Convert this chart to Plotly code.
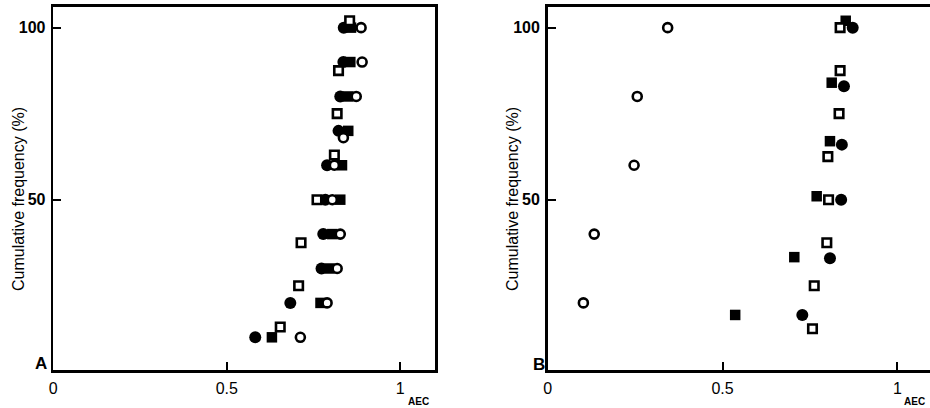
import plotly.graph_objects as go

# ---- Panel A data (AEC, cumulative frequency %) ----
a_fc_x = [0.582, 0.683, 0.773, 0.778, 0.784, 0.789, 0.822, 0.827, 0.836, 0.837]
a_fc_y = [10, 20, 30, 40, 50, 60, 70, 80, 90, 100]
a_fs_x = [0.630, 0.770, 0.796, 0.804, 0.827, 0.832, 0.850, 0.850, 0.856, 0.858]
a_fs_y = [10, 20, 30, 40, 50, 60, 70, 80, 90, 100]
a_oc_x = [0.712, 0.789, 0.818, 0.827, 0.804, 0.810, 0.836, 0.873, 0.890, 0.887]
a_oc_y = [10, 20, 30, 40, 50, 60, 68, 80, 90, 100]
a_os_x = [0.654, 0.707, 0.714, 0.760, 0.810, 0.818, 0.822, 0.854]
a_os_y = [13, 25, 37.5, 50, 63, 75, 87.5, 102]

# ---- Panel B data ----
b_oc_x = [0.102, 0.133, 0.247, 0.256, 0.343]
b_oc_y = [20, 40, 60, 80, 100]
b_fs_x = [0.536, 0.705, 0.769, 0.807, 0.812, 0.852]
b_fs_y = [16.5, 33.3, 51, 67, 84, 102]
b_fc_x = [0.728, 0.807, 0.839, 0.841, 0.847, 0.872]
b_fc_y = [16.5, 33, 50, 66, 83, 100]
b_os_x = [0.757, 0.762, 0.798, 0.803, 0.801, 0.833, 0.836, 0.836]
b_os_y = [12.5, 25, 37.5, 50, 62.5, 75, 87.5, 100]

x_ticks = [0, 0.5, 1]
x_ticktext = ["0", "0.5", "1"]
y_ticks = [50, 100]
y_ticktext = ["50", "100"]

FONT = "Liberation Sans"
W, H = 930, 408

fig = go.Figure()


def add_series(x, y, symbol, filled, xa, ya, size):
    fig.add_trace(go.Scatter(
        x=x, y=y, mode="markers", xaxis=xa, yaxis=ya, showlegend=False,
        hoverinfo="skip", cliponaxis=False,
        marker=dict(
            symbol=symbol, size=size,
            color="black" if filled else "white",
            line=dict(color="black", width=0 if filled else 2.6),
        ),
    ))


# order: filled squares, filled circles, open squares, open circles (open on top)
add_series(a_fs_x, a_fs_y, "square", True, "x", "y", 10.5)
add_series(a_fc_x, a_fc_y, "circle", True, "x", "y", 12)
add_series(a_os_x, a_os_y, "square", False, "x", "y", 8.5)
add_series(a_oc_x, a_oc_y, "circle", False, "x", "y", 9)

add_series(b_fs_x, b_fs_y, "square", True, "x2", "y2", 10.5)
add_series(b_fc_x, b_fc_y, "circle", True, "x2", "y2", 12)
add_series(b_os_x, b_os_y, "square", False, "x2", "y2", 8.5)
add_series(b_oc_x, b_oc_y, "circle", False, "x2", "y2", 9)

ydom = [1 - 370 / H, 1 - 7 / H]

xaxis_common = dict(
    range=[0, 1.1], tickvals=x_ticks, ticktext=x_ticktext,
    ticks="inside", ticklen=8, tickwidth=2, tickcolor="black",
    showline=True, linewidth=2.6, linecolor="black", mirror=True,
    showgrid=False, zeroline=False, automargin=False,
    tickfont=dict(family=FONT, size=16, color="black"),
    ticklabelstandoff=2,
)
yaxis_common = dict(
    range=[0.5, 106], tickvals=y_ticks, ticktext=y_ticktext,
    ticks="inside", ticklen=8, tickwidth=2, tickcolor="black",
    showline=True, linewidth=2.6, linecolor="black", mirror=True,
    showgrid=False, zeroline=False, automargin=False,
    tickfont=dict(family=FONT, size=16, color="black", weight="bold"),
    ticklabelstandoff=2,
)

fig.update_layout(
    width=W, height=H,
    margin=dict(l=0, r=0, t=0, b=0, autoexpand=False),
    paper_bgcolor="white", plot_bgcolor="white",
    xaxis=dict(domain=[53.3 / W, 435 / W], anchor="y", **xaxis_common),
    yaxis=dict(domain=ydom, anchor="x", **yaxis_common),
    xaxis2=dict(domain=[547.7 / W, 1.0], anchor="y2",
                **{**xaxis_common, "range": [0, 1.093]}),
    yaxis2=dict(domain=ydom, anchor="x2", **yaxis_common),
)

annots = [
    dict(x=18 / W, y=1 - 199 / H, text="Cumulative frequency (%)", textangle=-90,
         font=dict(family=FONT, size=16, color="black")),
    dict(x=512 / W, y=1 - 199 / H, text="Cumulative frequency (%)", textangle=-90,
         font=dict(family=FONT, size=16, color="black")),
    dict(x=41 / W, y=1 - 363 / H, text="<b>A</b>",
         font=dict(family=FONT, size=17, color="black")),
    dict(x=539 / W, y=1 - 364 / H, text="<b>B</b>",
         font=dict(family=FONT, size=17, color="black")),
    dict(x=418 / W, y=1 - 401 / H, text="<b>AEC</b>",
         font=dict(family=FONT, size=10, color="black")),
    dict(x=914 / W, y=1 - 401 / H, text="<b>AEC</b>",
         font=dict(family=FONT, size=10, color="black")),
]
for a in annots:
    fig.add_annotation(xref="paper", yref="paper", showarrow=False,
                       xanchor="center", yanchor="middle", **a)

fig.write_html("out.html",
               config={"displayModeBar": False, "staticPlot": True},
               post_script="document.body.style.margin='0';document.body.style.overflow='hidden';")
